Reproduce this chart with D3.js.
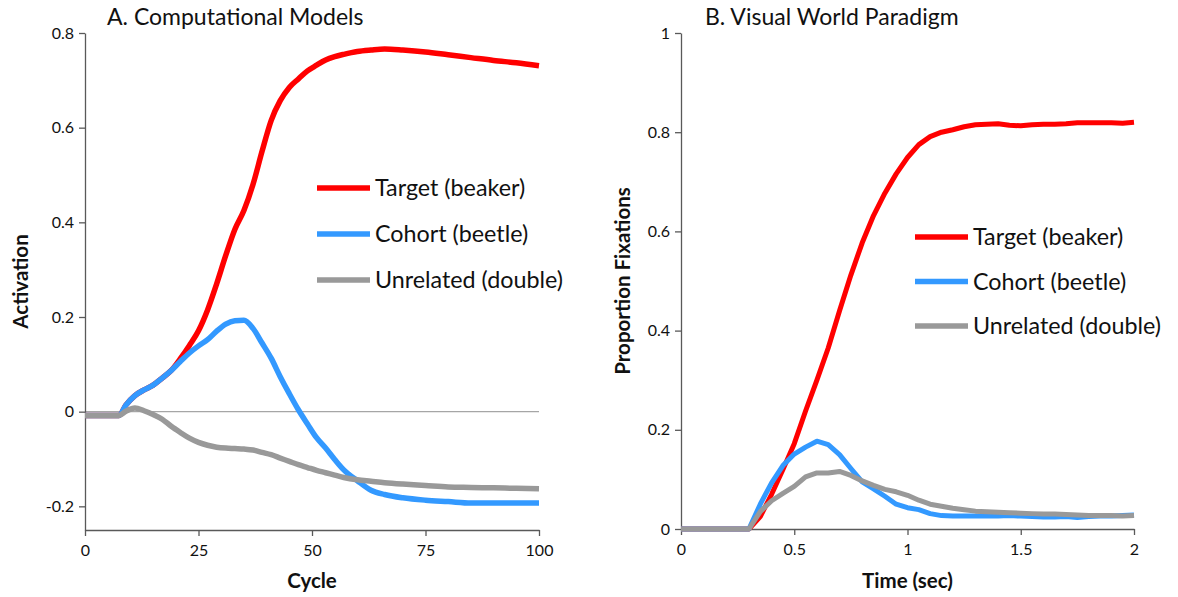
<!DOCTYPE html>
<html>
<head>
<meta charset="utf-8">
<script src="https://cdn.jsdelivr.net/npm/d3@7/dist/d3.min.js"></script>
<style>
  html, body { margin: 0; padding: 0; background: #fff; }
  svg { display: block; font-family: Lato, "Open Sans", sans-serif; }
</style>
</head>
<body>
<svg id="chart" width="1178" height="597"></svg>
<script>
// ---- Panel A: computational model activations over processing cycles ----
const cycles = [0, 4, 7.5, 9, 11, 13, 15, 17, 19, 21, 23, 25, 27, 29, 31, 33, 35, 37, 39, 41,
  43, 45, 47, 49, 51, 53, 55, 57, 60, 63, 66, 70, 75, 80, 85, 90, 95, 100];
const modelTarget = [-0.008, -0.008, -0.008, 0.014, 0.034, 0.046, 0.056, 0.071, 0.087, 0.112,
  0.14, 0.171, 0.215, 0.27, 0.33, 0.385, 0.425, 0.48, 0.55, 0.615,
  0.657, 0.685, 0.703, 0.72, 0.732, 0.743, 0.75, 0.755, 0.761, 0.764,
  0.766, 0.764, 0.76, 0.754, 0.748, 0.742, 0.737, 0.731];
const modelCohort = [-0.008, -0.008, -0.008, 0.014, 0.034, 0.046, 0.056, 0.071, 0.087, 0.106,
  0.124, 0.139, 0.152, 0.17, 0.185, 0.192, 0.193, 0.176, 0.145, 0.113,
  0.074, 0.038, 0.004, -0.026, -0.055, -0.077, -0.101, -0.123, -0.146, -0.166,
  -0.175, -0.182, -0.187, -0.19, -0.193, -0.193, -0.193, -0.193];
const modelUnrelated = [-0.008, -0.008, -0.008, 0.001, 0.008, 0.002, -0.006, -0.016, -0.031, -0.044,
  -0.056, -0.065, -0.071, -0.075, -0.077, -0.078, -0.079, -0.081, -0.086, -0.091,
  -0.098, -0.105, -0.112, -0.118, -0.124, -0.129, -0.134, -0.139, -0.144, -0.147,
  -0.15, -0.153, -0.156, -0.159, -0.16, -0.161, -0.162, -0.163];
const cycleTicks = [0, 25, 50, 75, 100];
const activationTicks = [-0.2, 0, 0.2, 0.4, 0.6, 0.8];

// ---- Panel B: eye-tracking fixation proportions over time ----
const times = [0, 0.3, 0.35, 0.4, 0.45, 0.5, 0.55, 0.6, 0.65, 0.7, 0.75, 0.8, 0.85, 0.9, 0.95,
  1.0, 1.05, 1.1, 1.15, 1.2, 1.25, 1.3, 1.35, 1.4, 1.45, 1.5, 1.55, 1.6, 1.65, 1.7,
  1.75, 1.8, 1.85, 1.9, 1.95, 2.0];
const fixTarget = [0, 0, 0.025, 0.07, 0.12, 0.172, 0.238, 0.3, 0.365, 0.44, 0.512, 0.577, 0.632, 0.677, 0.716,
  0.749, 0.775, 0.791, 0.8, 0.805, 0.811, 0.815, 0.816, 0.817, 0.814, 0.813, 0.815, 0.816, 0.816, 0.817,
  0.819, 0.819, 0.819, 0.819, 0.818, 0.82];
const fixCohort = [0, 0, 0.05, 0.093, 0.128, 0.151, 0.165, 0.177, 0.17, 0.15, 0.122, 0.095, 0.081, 0.066, 0.05,
  0.043, 0.039, 0.031, 0.027, 0.026, 0.026, 0.026, 0.026, 0.026, 0.027, 0.026, 0.025, 0.024, 0.024, 0.025,
  0.023, 0.025, 0.026, 0.026, 0.027, 0.028];
const fixUnrelated = [0, 0, 0.035, 0.057, 0.072, 0.086, 0.105, 0.113, 0.113, 0.116, 0.108, 0.097, 0.088, 0.08, 0.075,
  0.068, 0.058, 0.05, 0.046, 0.042, 0.039, 0.036, 0.035, 0.034, 0.033, 0.032, 0.031, 0.03, 0.03, 0.029,
  0.028, 0.027, 0.027, 0.027, 0.026, 0.027];
const timeTicks = [0, 0.5, 1, 1.5, 2];
const fixationTicks = [0, 0.2, 0.4, 0.6, 0.8, 1];

const seriesNames = ["Target (beaker)", "Cohort (beetle)", "Unrelated (double)"];
const seriesColors = ["#ff0000", "#3399ff", "#999999"];

const svg = d3.select("#chart");
const AXIS = "#595959";

function drawPanel(p) {
  const x = d3.scaleLinear().domain(p.xDomain).range([p.left, p.right]);
  const y = d3.scaleLinear().domain(p.yDomain).range([p.bottom, p.top]);
  const g = svg.append("g");

  // zero reference line
  if (p.zeroLine) {
    g.append("line")
      .attr("x1", x(p.xDomain[0])).attr("x2", x(p.xDomain[1]))
      .attr("y1", y(0)).attr("y2", y(0))
      .attr("stroke", "#a6a6a6").attr("stroke-width", 1.3);
  }

  // x axis
  const xAxis = g.append("g").attr("transform", `translate(0,${p.bottom})`)
    .call(d3.axisBottom(x).tickValues(p.xTicks).tickSize(6).tickSizeOuter(0)
      .tickFormat(d => String(d)));
  // y axis
  const yAxis = g.append("g").attr("transform", `translate(${p.left},0)`)
    .call(d3.axisLeft(y).tickValues(p.yTicks).tickSize(6).tickSizeOuter(0)
      .tickFormat(d => String(+d.toFixed(2))));
  [xAxis, yAxis].forEach(a => {
    a.select(".domain").attr("stroke", AXIS).attr("stroke-width", 1.3);
    a.selectAll(".tick line").attr("stroke", AXIS).attr("stroke-width", 1.3);
    a.selectAll(".tick text").attr("fill", "#111").attr("font-size", 16)
      .attr("font-family", "Lato, sans-serif");
  });
  xAxis.selectAll(".tick text").attr("dy", "1.05em");
  yAxis.selectAll(".tick text").attr("x", -11);

  // series lines: red first, grey on top
  const line = d3.line().x(d => x(d[0])).y(d => y(d[1])).curve(p.curve);
  p.series.forEach((vals, i) => {
    g.append("path")
      .datum(p.xs.map((xv, j) => [xv, vals[j]]))
      .attr("fill", "none")
      .attr("stroke", seriesColors[i])
      .attr("stroke-width", p.lineWidth)
      .attr("stroke-linejoin", "round")
      .attr("d", line);
  });

  // panel title
  g.append("text").attr("x", p.titleX).attr("y", 25)
    .attr("font-size", 23).attr("fill", "#111").text(p.title);

  // axis titles
  g.append("text").attr("x", (p.left + p.right) / 2).attr("y", 588)
    .attr("text-anchor", "middle").attr("font-weight", "bold")
    .attr("font-size", 20.5).attr("fill", "#111").text(p.xLabel);
  g.append("text")
    .attr("transform", `translate(${p.yLabelX},${(p.top + p.bottom) / 2}) rotate(-90)`)
    .attr("text-anchor", "middle").attr("font-weight", "bold")
    .attr("font-size", 20.5).attr("fill", "#111").text(p.yLabel);

  // legend
  const lg = g.append("g");
  seriesNames.forEach((name, i) => {
    const ly = p.legendY + i * p.legendGap;
    lg.append("line").attr("x1", p.legendX).attr("x2", p.legendX + 53)
      .attr("y1", ly).attr("y2", ly)
      .attr("stroke", seriesColors[i]).attr("stroke-width", 5.5);
    lg.append("text").attr("x", p.legendX + 58).attr("y", ly + 8)
      .attr("font-size", 23.3).attr("fill", "#111").text(name);
  });
}

drawPanel({
  xs: cycles, series: [modelTarget, modelCohort, modelUnrelated],
  xDomain: [0, 100], yDomain: [-0.25, 0.8],
  left: 85, right: 539, top: 33, bottom: 530,
  xTicks: cycleTicks, yTicks: activationTicks,
  curve: d3.curveMonotoneX, lineWidth: 5.5, zeroLine: true,
  title: "A. Computational Models", titleX: 107,
  xLabel: "Cycle", yLabel: "Activation", yLabelX: 28,
  legendX: 317, legendY: 188, legendGap: 46
});

drawPanel({
  xs: times, series: [fixTarget, fixCohort, fixUnrelated],
  xDomain: [0, 2], yDomain: [0, 1],
  left: 681, right: 1134, top: 33, bottom: 529,
  xTicks: timeTicks, yTicks: fixationTicks,
  curve: d3.curveLinear, lineWidth: 5, zeroLine: false,
  title: "B. Visual World Paradigm", titleX: 705,
  xLabel: "Time (sec)", yLabel: "Proportion Fixations", yLabelX: 630,
  legendX: 915, legendY: 237, legendGap: 44.5
});
</script>
</body>
</html>
